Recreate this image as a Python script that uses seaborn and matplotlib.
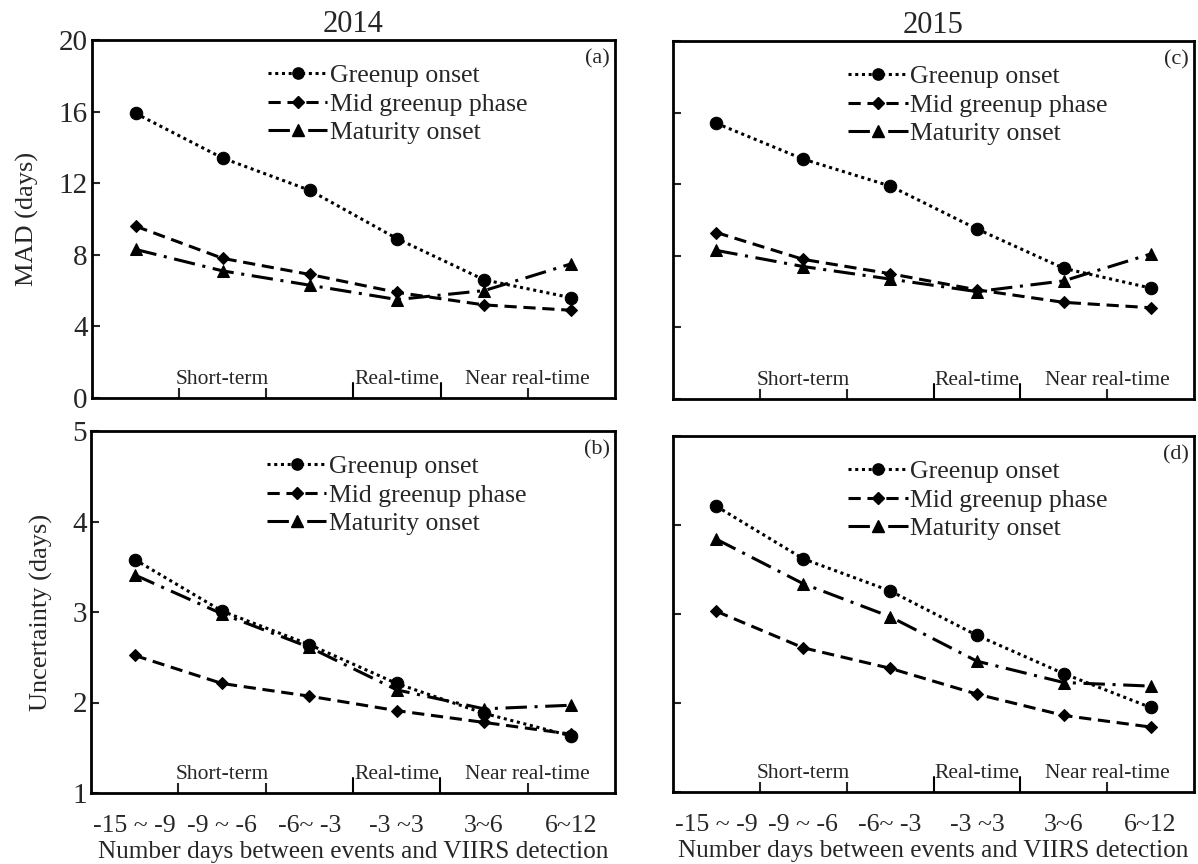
import numpy as np
import pandas as pd
import seaborn as sns
import matplotlib.pyplot as plt
from matplotlib.lines import Line2D

sns.set_style("ticks")
plt.rcParams["font.family"] = ["Liberation Serif", "DejaVu Serif"]

# ---- data -------------------------------------------------------------
categories = ["-15 ~ -9", "-9 ~ -6", "-6~ -3", "-3 ~3", "3~6", "6~12"]
stages = ["Greenup onset", "Mid greenup phase", "Maturity onset"]

mad_2014_greenup = [15.9, 13.4, 11.6, 8.9, 6.6, 5.6]
mad_2014_mid = [9.6, 7.8, 6.9, 5.9, 5.2, 4.9]
mad_2014_maturity = [8.3, 7.1, 6.3, 5.5, 6.0, 7.5]

mad_2015_greenup = [15.4, 13.4, 11.9, 9.5, 7.3, 6.2]
mad_2015_mid = [9.3, 7.8, 7.0, 6.1, 5.4, 5.1]
mad_2015_maturity = [8.3, 7.4, 6.7, 6.0, 6.6, 8.1]

unc_2014_greenup = [3.58, 3.01, 2.64, 2.21, 1.88, 1.63]
unc_2014_mid = [2.52, 2.21, 2.07, 1.91, 1.78, 1.65]
unc_2014_maturity = [3.41, 2.98, 2.61, 2.14, 1.93, 1.97]

unc_2015_greenup = [4.21, 3.62, 3.26, 2.76, 2.33, 1.95]
unc_2015_mid = [3.03, 2.62, 2.39, 2.10, 1.86, 1.73]
unc_2015_maturity = [3.84, 3.34, 2.97, 2.47, 2.23, 2.19]

group_labels = ["Short-term", "Real-time", "Near real-time"]
group_centers = [1.0, 3.0, 4.5]

# ---- styles -----------------------------------------------------------
markers = {"Greenup onset": "o", "Mid greenup phase": "D", "Maturity onset": "^"}
dashes = {"Greenup onset": (1, 1.2), "Mid greenup phase": (4, 2.2),
          "Maturity onset": (7, 2.5, 1, 2.5)}
msizes = {"Greenup onset": 9, "Mid greenup phase": 6.5, "Maturity onset": 9}


def make_frame(greenup, mid, maturity):
    rows = []
    for stage, vals in zip(stages, [greenup, mid, maturity]):
        for i, v in enumerate(vals):
            rows.append({"pos": i, "value": v, "stage": stage})
    return pd.DataFrame(rows)


fig = plt.figure(figsize=(11.98, 8.64), dpi=100)
W, H = 1198, 864


def add_ax(x0, x1, y0, y1):
    return fig.add_axes([x0 / W, 1 - y1 / H, (x1 - x0) / W, (y1 - y0) / H])


ax_a = add_ax(92, 615, 40, 398)
ax_c = add_ax(673, 1194, 41, 399)
ax_b = add_ax(91, 615, 431, 793)
ax_d = add_ax(673, 1194, 436, 792)

panels = [
    (ax_a, make_frame(mad_2014_greenup, mad_2014_mid, mad_2014_maturity), "(a)", (0, 20), [0, 4, 8, 12, 16, 20], True, False),
    (ax_c, make_frame(mad_2015_greenup, mad_2015_mid, mad_2015_maturity), "(c)", (0, 20), [0, 4, 8, 12, 16, 20], False, False),
    (ax_b, make_frame(unc_2014_greenup, unc_2014_mid, unc_2014_maturity), "(b)", (1, 5), [1, 2, 3, 4, 5], True, True),
    (ax_d, make_frame(unc_2015_greenup, unc_2015_mid, unc_2015_maturity), "(d)", (1, 5), [1, 2, 3, 4, 5], False, True),
]

for ax, df, tag, ylim, yticks, show_y, show_x in panels:
    for stage in stages:
        sub = df[df["stage"] == stage]
        sns.lineplot(data=sub, x="pos", y="value", ax=ax, color="black",
                     marker=markers[stage], markersize=msizes[stage],
                     markeredgecolor="black", linewidth=2.2,
                     dashes=dashes[stage], legend=False, errorbar=None)
    ax.set_xlim(-0.5, 5.5)
    ax.set_ylim(*ylim)
    ax.set_yticks(yticks)
    ax.set_xlabel("")
    ax.set_ylabel("")
    for sp in ax.spines.values():
        sp.set_linewidth(2.0)
        sp.set_color("black")
        sp.set_visible(True)
    ax.tick_params(axis="y", direction="in", length=6, width=1.5,
                   labelsize=21, pad=3, labelleft=show_y)
    # category labels under the axis, no marks at the category centres
    ax.set_xticks(range(len(categories)))
    ax.set_xticklabels(categories if show_x else [""] * len(categories))
    ax.tick_params(axis="x", which="major", length=0, labelsize=18.5, pad=16)
    # boundary marks between categories
    ax.set_xticks([0.5, 1.5, 4.5], minor=True)
    ax.tick_params(axis="x", which="minor", direction="in", length=7, width=1.5)
    for xb in [2.5, 3.5]:
        ax.axvline(xb, ymin=0, ymax=0.042, color="black", linewidth=1.5)
    for lbl, xc in zip(group_labels, group_centers):
        ax.text(xc, 0.026, lbl, transform=ax.get_xaxis_transform(),
                ha="center", va="bottom", fontsize=15.5)
    ax.text(0.99, 0.975, tag, transform=ax.transAxes, ha="right", va="top",
            fontsize=16)
    handles = [Line2D([], [], color="black", linewidth=2.2,
                      dashes=dashes[s], marker=markers[s],
                      markersize=msizes[s] * 0.9)
               for s in stages]
    ax.legend(handles, stages, loc="upper left",
              bbox_to_anchor=(0.29, 1.0), frameon=False, fontsize=18.5,
              handlelength=2.3, handletextpad=0.1, labelspacing=0.2,
              borderaxespad=0.55)
    if show_x:
        ax.set_xlabel("Number days between events and VIIRS detection",
                      fontsize=18.2, labelpad=3)

ax_a.set_title("2014", fontsize=22, pad=6)
ax_c.set_title("2015", fontsize=22, pad=6)
ax_a.set_ylabel("MAD (days)", fontsize=19, labelpad=14)
ax_b.set_ylabel("Uncertainty (days)", fontsize=19, labelpad=14)

fig.savefig("out.png", dpi=100, facecolor="white")
